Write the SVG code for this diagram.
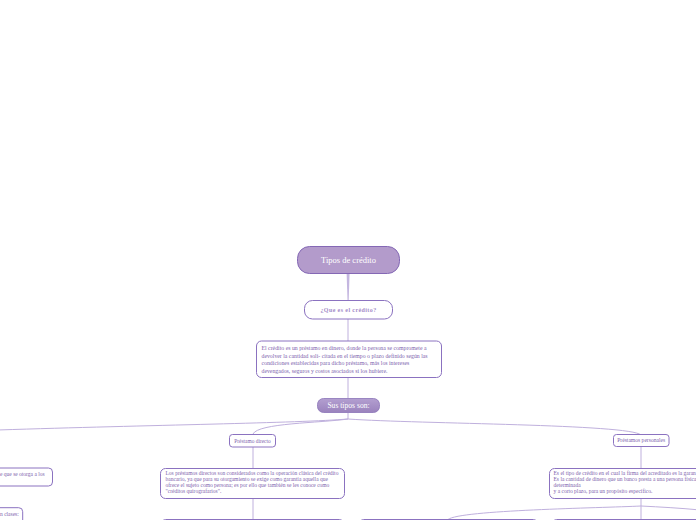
<svg xmlns="http://www.w3.org/2000/svg" width="696" height="520" viewBox="0 0 696 520">
<defs>
<linearGradient id="gSub" x1="0" y1="0" x2="0" y2="1">
<stop offset="0" stop-color="#b39fd0"/>
<stop offset="1" stop-color="#9a82bd"/>
</linearGradient>
</defs>
<style>
.t{font-family:"Liberation Serif","Times New Roman",serif;}
.box{fill:#ffffff;stroke:#8b72c0;stroke-width:1;}
.txt{font-size:5.5px;fill:#7d63ad;}
.con{fill:none;stroke:#bfb0dd;stroke-width:1;}
</style>
<rect x="0" y="0" width="696" height="520" fill="#ffffff"/>
<g id="connectors">
<path d="M346.6,273 L349.6,273 L348.7,300 L347.5,300 Z" fill="#c4b6e0"/>
<path class="con" d="M348,319 L348,341"/>
<path class="con" d="M348,377 L348,398"/>
<path class="con" d="M348,413 L348,419"/>
<path class="con" d="M348,419 C300,423 150,425 -2,430"/>
<path class="con" d="M348,419 C320,423 258,423 253,434"/>
<path class="con" d="M348,419 C420,424 630,424 641,435"/>
<path class="con" d="M253,447 L253,468"/>
<path class="con" d="M641,446 L641,468"/>
<path class="con" d="M253,498 L253,519.5"/>
<path class="con" d="M641,498 L641,519.5"/>
<path class="con" d="M641,506 C600,508 460,510 448,519.5"/>
<path class="con" d="M641,506 C660,507 680,508 700,510"/>
</g>
<g id="n-root">
<rect x="297.5" y="246.5" width="102" height="27" rx="12" fill="#b39bcb" stroke="#8468b5" stroke-width="1"/>
<text class="t" x="348.5" y="263" text-anchor="middle" font-size="8.5" fill="#ffffff">Tipos de crédito</text>
</g>
<g id="n-que">
<rect x="304.5" y="300.5" width="88" height="18.5" rx="8" class="box"/>
<text class="t" x="348.5" y="312" text-anchor="middle" font-size="6" font-weight="bold" letter-spacing="0.4" fill="#a48cc8">¿Que es el crédito?</text>
</g>
<g id="n-def">
<rect x="256.5" y="341" width="185" height="36.5" rx="5" class="box"/>
<text class="t" x="261.5" y="350" font-size="5.8" fill="#7d63ad">El crédito es un préstamo en dinero, donde la persona se compromete a</text>
<text class="t" x="261.5" y="357.5" font-size="5.8" fill="#7d63ad">devolver la cantidad soli- citada en el tiempo o plazo definido según las</text>
<text class="t" x="261.5" y="365" font-size="5.8" fill="#7d63ad">condiciones establecidas para dicho préstamo, más los intereses</text>
<text class="t" x="261.5" y="372.5" font-size="5.8" fill="#7d63ad">devengados, seguros y costos asociados si los hubiere.</text>
</g>
<g id="n-tipos">
<rect x="317.5" y="398.5" width="62" height="14" rx="6" fill="url(#gSub)" stroke="#8a74b8" stroke-width="0.8"/>
<text class="t" x="348.5" y="408.2" text-anchor="middle" font-size="7.6" fill="#ffffff">Sus tipos son:</text>
</g>
<g id="n-left1">
<rect x="-20" y="468" width="72.5" height="18" rx="4" class="box"/>
<text class="t txt" x="0" y="475.5">e que se otorga a los</text>
</g>
<g id="n-left2">
<rect x="-20" y="507.7" width="42.7" height="30" rx="4" class="box"/>
<text class="t txt" x="0" y="515.5">n clases:</text>
</g>
<g id="n-directo">
<rect x="229.5" y="434.5" width="46" height="12.5" rx="3" class="box"/>
<text class="t" x="252.5" y="442.5" text-anchor="middle" font-size="5.4" fill="#7d63ad">Préstamo directo</text>
</g>
<g id="n-directo-txt">
<rect x="160.5" y="468.5" width="184" height="30" rx="5" class="box"/>
<text class="t txt" x="165.5" y="475">Los préstamos directos son considerados como la operación clásica del crédito</text>
<text class="t txt" x="165.5" y="481">bancario, ya que para su otorgamiento se exige como garantía aquella que</text>
<text class="t txt" x="165.5" y="487">ofrece el sujeto como persona; es por ello que también se les conoce como</text>
<text class="t txt" x="165.5" y="493">"créditos quirografarios".</text>
</g>
<g id="n-personales">
<rect x="613.5" y="434.5" width="55.5" height="12" rx="3" class="box"/>
<text class="t" x="641.2" y="442.3" text-anchor="middle" font-size="5.6" fill="#7d63ad">Préstamos personales</text>
</g>
<g id="n-personales-txt">
<rect x="549.5" y="468.5" width="180" height="30" rx="5" class="box"/>
<text class="t txt" x="553.5" y="475">Es el tipo de crédito en el cual la firma del acreditado es la garan</text>
<text class="t txt" x="553.5" y="481">Es la cantidad de dinero que un banco presta a una persona física</text>
<text class="t txt" x="553.5" y="487">determinada</text>
<text class="t txt" x="553.5" y="493">y a corto plazo, para un propósito específico.</text>
</g>
<g id="n-bottom1">
<rect x="161.5" y="519.5" width="182" height="30" rx="4" class="box"/>
</g>
<g id="n-bottom2">
<rect x="359.5" y="519.5" width="178" height="30" rx="4" class="box"/>
</g>
<g id="n-bottom3">
<rect x="552.5" y="519.5" width="180" height="30" rx="4" class="box"/>
</g>
</svg>
